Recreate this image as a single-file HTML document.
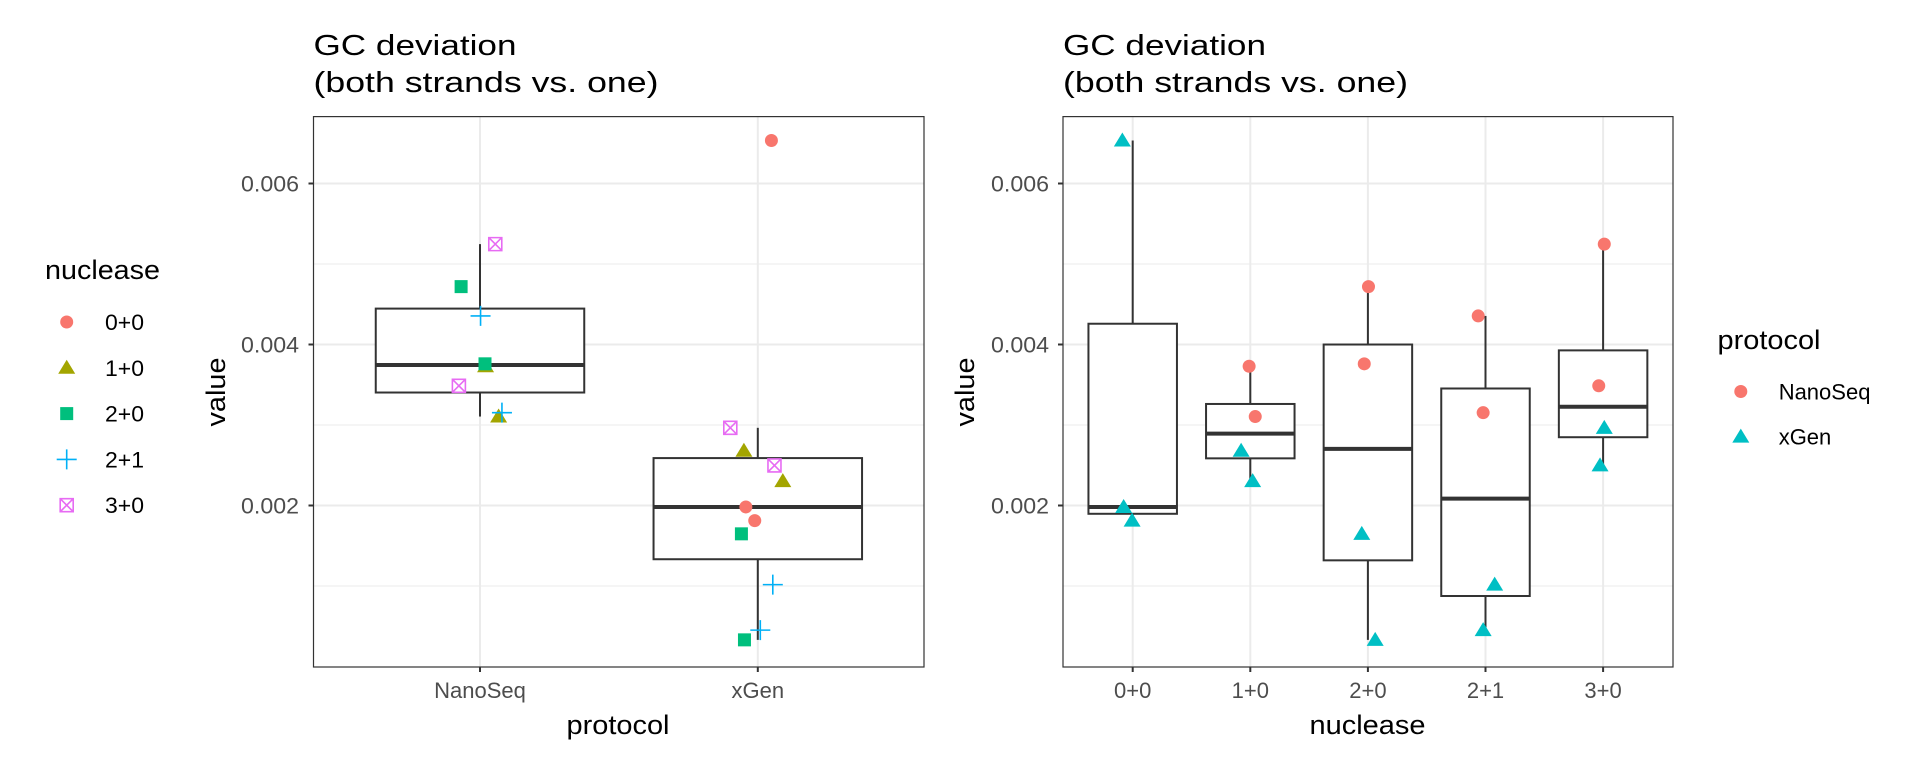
<!DOCTYPE html>
<html><head><meta charset="utf-8"><style>
html,body{margin:0;padding:0;background:#fff;}
svg{display:block;font-family:"Liberation Sans",Arial,sans-serif;}
</style></head><body>
<svg id="chart" width="1920" height="768" viewBox="0 0 1920 768" xmlns="http://www.w3.org/2000/svg">
<g id="root"></g>
</svg>
<script>
// ---- data ----
const protocols = ["NanoSeq","NanoSeq","NanoSeq","NanoSeq","NanoSeq","NanoSeq","NanoSeq","NanoSeq","xGen","xGen","xGen","xGen","xGen","xGen","xGen","xGen","xGen","xGen","xGen"];
const nucleases = ["1+0","1+0","2+0","2+0","2+1","2+1","3+0","3+0","0+0","0+0","0+0","1+0","1+0","2+0","2+0","2+1","2+1","3+0","3+0"];
const values = [0.00373,0.003105,0.004719,0.00376,0.004355,0.003153,0.005247,0.003487,0.006534,0.001982,0.001812,0.00268,0.002303,0.001648,0.000331,0.001017,0.000452,0.002965,0.002498];
// jitter offsets (fraction of category spacing)
const jitterLeft = [0.02,0.067,-0.068,0.018,0.002,0.079,0.055,-0.076,0.049,-0.043,-0.011,-0.05,0.09,-0.059,-0.048,0.054,0.009,-0.099,0.06];
const jitterRight = [-0.01,0.042,0.005,-0.031,-0.062,-0.02,0.01,-0.037,-0.088,-0.077,-0.005,-0.078,0.02,-0.052,0.062,0.078,-0.02,0.01,-0.026];
const protocolCats = ["NanoSeq","xGen"];
const nucleaseCats = ["0+0","1+0","2+0","2+1","3+0"];
const yTicks = [0.002,0.004,0.006];
const yTickLabels = ["0.002","0.004","0.006"];
const yMinor = [0.001,0.003,0.005];
const nucColors = {"0+0":"#F8766D","1+0":"#A3A500","2+0":"#00BF7D","2+1":"#00B0F6","3+0":"#E76BF3"};
const nucShapes = {"0+0":"circle","1+0":"triangle","2+0":"square","2+1":"plus","3+0":"boxx"};
const protoColors = {"NanoSeq":"#F8766D","xGen":"#00BFC4"};
const protoShapes = {"NanoSeq":"circle","xGen":"triangle"};

const NS="http://www.w3.org/2000/svg";
const root=document.getElementById('root');
function el(tag,attrs,parent){const e=document.createElementNS(NS,tag);for(const k in attrs)e.setAttribute(k,attrs[k]);(parent||root).appendChild(e);return e;}
function txt(s,attrs,parent){const e=el('text',attrs,parent);e.textContent=s;return e;}

const yScale=v=>666.5-v*80500;
const PT=116.6, PB=667;

function quantile(sorted,p){const pos=(sorted.length-1)*p;const lo=Math.floor(pos),hi=Math.ceil(pos);return sorted[lo]+(sorted[hi]-sorted[lo])*(pos-lo);}
function boxStats(arr){const s=[...arr].sort((a,b)=>a-b);const q1=quantile(s,.25),med=quantile(s,.5),q3=quantile(s,.75);const iqr=q3-q1;const lo=s.filter(v=>v>=q1-1.5*iqr)[0];const hiArr=s.filter(v=>v<=q3+1.5*iqr);return{q1,med,q3,lo,hi:hiArr[hiArr.length-1]};}

function drawShape(shape,cx,cy,color,g){
  let e;
  if(shape==='circle'){e=el('circle',{cx,cy,r:6.5,fill:color},g);}
  else if(shape==='triangle'){e=el('polygon',{points:`${cx},${cy-8} ${cx-8.5},${cy+6} ${cx+8.5},${cy+6}`,fill:color},g);}
  else if(shape==='square'){e=el('rect',{x:cx-6.5,y:cy-6.5,width:13,height:13,fill:color},g);}
  else if(shape==='plus'){e=el('path',{d:`M${cx-10},${cy}H${cx+10}M${cx},${cy-10}V${cy+10}`,stroke:color,'stroke-width':1.6,fill:'none'},g);}
  else {e=el('path',{d:`M${cx-6.5},${cy-6.5}h13v13h-13zM${cx-6.5},${cy-6.5}l13,13M${cx+6.5},${cy-6.5}l-13,13`,stroke:color,'stroke-width':1.6,fill:'none'},g);}
  return e;
}

function panel(opts){
  const {name,L,R,cats,catX,catSpacing,groupKey,boxWidth,colorFn,shapeFn,jitter,xTitle,title,xTitleX,tickLabelRight}=opts;
  const g=el('g',{});
  
  
  // grid
  yMinor.forEach(v=>{const l=el('line',{x1:L,x2:R,y1:yScale(v),y2:yScale(v),stroke:'#ebebeb','stroke-width':1},g);
    });
  yTicks.forEach(v=>{const l=el('line',{x1:L,x2:R,y1:yScale(v),y2:yScale(v),stroke:'#ebebeb','stroke-width':2},g);
    });
  cats.forEach((c,i)=>{const l=el('line',{x1:catX(i),x2:catX(i),y1:PT,y2:PB,stroke:'#ebebeb','stroke-width':2},g);
    });
  // boxes
  cats.forEach((c,i)=>{
    const vals=values.filter((v,k)=>groupKey[k]===c);
    if(!vals.length)return;
    const st=boxStats(vals);const cx=catX(i);const bw=boxWidth/2;
    const bg=el('g',{},g);
    
    
    el('line',{x1:cx,x2:cx,y1:yScale(st.q3),y2:yScale(st.hi),stroke:'#333','stroke-width':2},bg);
    el('line',{x1:cx,x2:cx,y1:yScale(st.q1),y2:yScale(st.lo),stroke:'#333','stroke-width':2},bg);
    el('rect',{x:cx-bw,y:yScale(st.q3),width:boxWidth,height:yScale(st.q1)-yScale(st.q3),fill:'#fff',stroke:'#333','stroke-width':2},bg);
    el('line',{x1:cx-bw,x2:cx+bw,y1:yScale(st.med),y2:yScale(st.med),stroke:'#333','stroke-width':4},bg);
  });
  // points
  values.forEach((v,k)=>{
    const i=cats.indexOf(groupKey[k]);
    const cx=catX(i)+jitter[k]*catSpacing;
    const p=drawShape(shapeFn(k),cx,yScale(v),colorFn(k),g);
    
    
  });
  // border
  const b=el('rect',{x:L,y:PT,width:R-L,height:PB-PT,fill:'none',stroke:'#333','stroke-width':1.2},g);
  
  // y ticks
  yTicks.forEach((v,i)=>{
    el('line',{x1:L-5,x2:L,y1:yScale(v),y2:yScale(v),stroke:'#333','stroke-width':2},g);
    const t=txt(yTickLabels[i],{x:tickLabelRight,y:yScale(v)+8,'text-anchor':'end','font-size':22,fill:'#4d4d4d',textLength:58,lengthAdjust:'spacingAndGlyphs'},g);
    
  });
  // x ticks
  cats.forEach((c,i)=>{
    el('line',{x1:catX(i),x2:catX(i),y1:PB,y2:PB+5,stroke:'#333','stroke-width':2},g);
    const t=txt(c,{x:catX(i),y:698,'text-anchor':'middle','font-size':22,fill:'#4d4d4d'},g);
    
  });
  const xt=txt(xTitle.text,{x:xTitleX,y:734,'text-anchor':'middle','font-size':27,fill:'#000',textLength:xTitle.w,lengthAdjust:'spacingAndGlyphs'},g);
  
  const yx=opts.yTitleX;
  const yt=txt('value',{x:yx,y:392,transform:`rotate(-90 ${yx} 392)`,'text-anchor':'middle','font-size':27,fill:'#000',textLength:69,lengthAdjust:'spacingAndGlyphs'},g);
  
  const t1=txt('GC deviation',{x:L,y:55,'font-size':29,fill:'#000',textLength:203,lengthAdjust:'spacingAndGlyphs'},g);
  
  const t2=txt('(both strands vs. one)',{x:L,y:92,'font-size':29,fill:'#000',textLength:345,lengthAdjust:'spacingAndGlyphs'},g);
  
}

panel({name:'left-panel-by-protocol',L:313.5,R:924,cats:protocolCats,catX:i=>480+i*277.8,catSpacing:277.8,groupKey:protocols,boxWidth:208.5,
  colorFn:k=>nucColors[nucleases[k]],shapeFn:k=>nucShapes[nucleases[k]],jitter:jitterLeft,
  xTitle:{text:'protocol',w:103},xTitleX:618,yTitleX:225,tickLabelRight:299});
panel({name:'right-panel-by-nuclease',L:1063,R:1673,cats:nucleaseCats,catX:i=>1132.7+i*117.6,catSpacing:117.6,groupKey:nucleases,boxWidth:88.5,
  colorFn:k=>protoColors[protocols[k]],shapeFn:k=>protoShapes[protocols[k]],jitter:jitterRight,
  xTitle:{text:'nuclease',w:116},xTitleX:1367.5,yTitleX:974,tickLabelRight:1049});

// legends
const lg1=el('g',{});


txt('nuclease',{x:45,y:279,'font-size':27,fill:'#000',textLength:115,lengthAdjust:'spacingAndGlyphs'},lg1);
nucleaseCats.forEach((c,i)=>{
  const y=330+i*45.8;
  const e=el('g',{},lg1);
  
  
  drawShape(nucShapes[c],66.7,y-8,nucColors[c],e);
  txt(c,{x:105,y:y,'font-size':22,fill:'#000',textLength:39,lengthAdjust:'spacingAndGlyphs'},e);
});
const lg2=el('g',{});


txt('protocol',{x:1717.5,y:349,'font-size':27,fill:'#000',textLength:103,lengthAdjust:'spacingAndGlyphs'},lg2);
protocolCats.forEach((c,i)=>{
  const y=399.5+i*45.1;
  const e=el('g',{},lg2);
  
  
  drawShape(protoShapes[c],1740.8,y-8,protoColors[c],e);
  txt(c,{x:1778.7,y:y,'font-size':22,fill:'#000'},e);
});
</script>
</body></html>
